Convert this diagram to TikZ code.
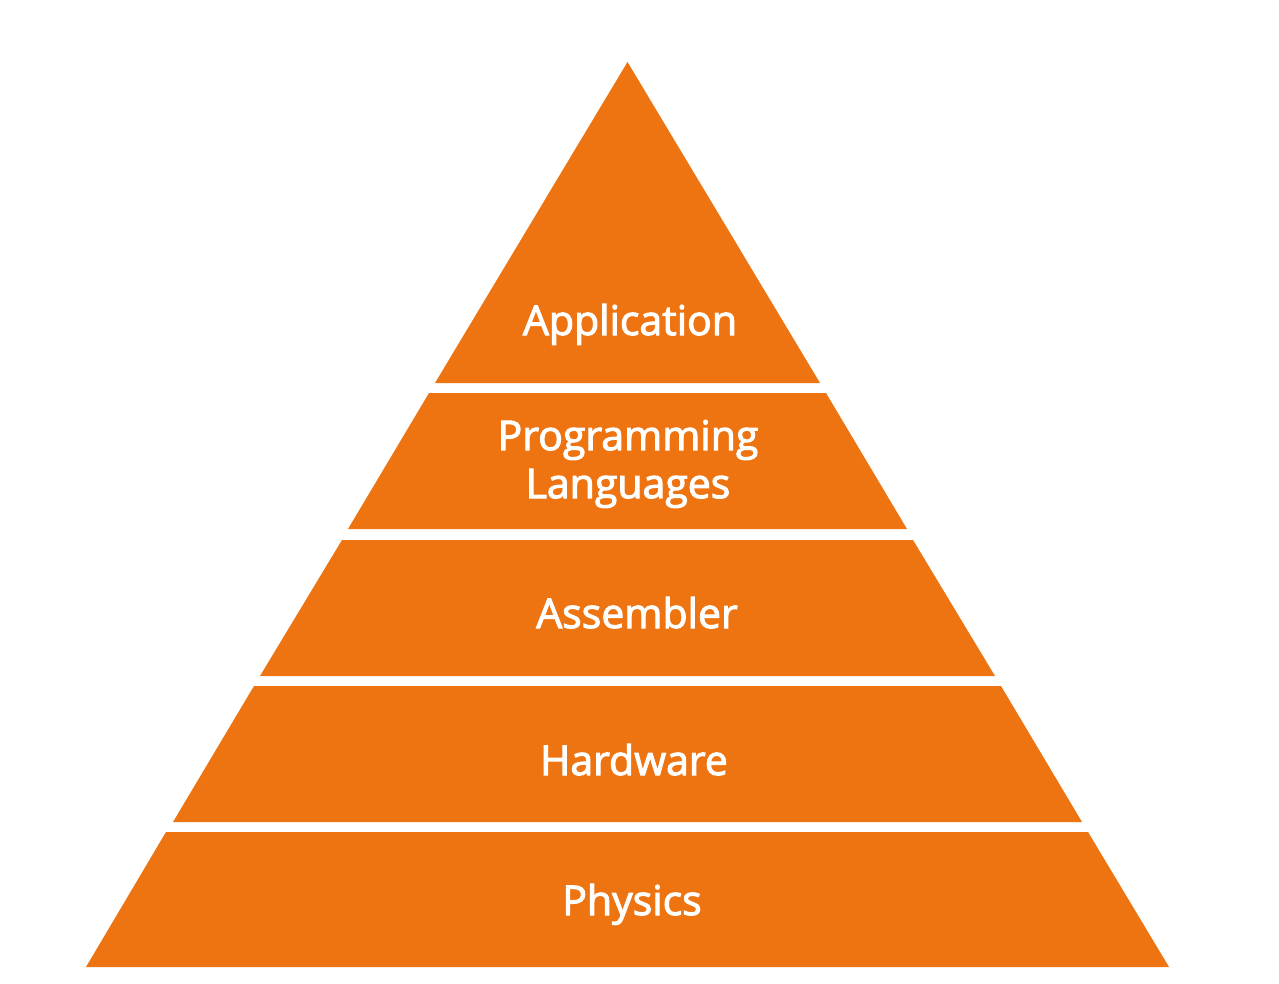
\documentclass[tikz,border=0pt]{standalone}
\usepackage{fontspec}
\setmainfont{Open Sans}[FakeBold=2.5]
\definecolor{pyr}{RGB}{238,116,18}
\begin{document}
\begin{tikzpicture}[x=1pt,y=-1pt,
  layer/.style={fill=pyr,draw=none},
  lbl/.style={text=white,font=\fontsize{41}{48}\selectfont,align=center,inner sep=0pt}]
\useasboundingbox (0,0) rectangle (1279,984);
\fill[white] (0,0) rectangle (1279,984);
% layers
\path[layer] (627.5,62) -- (820,383) -- (435,383) -- cycle;
\path[layer] (429,393) -- (826,393) -- (907,529) -- (348,529) -- cycle;
\path[layer] (342,540) -- (913,540) -- (995,676) -- (260,676) -- cycle;
\path[layer] (254,686) -- (1001,686) -- (1082,822) -- (173,822) -- cycle;
\path[layer] (166,832) -- (1088,832) -- (1169,967) -- (86,967) -- cycle;
% labels
\node[lbl,anchor=base] (app) at (630,335) {Application};
\node[lbl] (prog) at (628,464) {Programming\\Languages};
\node[lbl,anchor=base] (asm) at (637,628) {Assembler};
\node[lbl,anchor=base] (hw) at (634,775) {Hardware};
\node[lbl,anchor=base] (phy) at (632,915) {Physics};
\end{tikzpicture}
\end{document}
